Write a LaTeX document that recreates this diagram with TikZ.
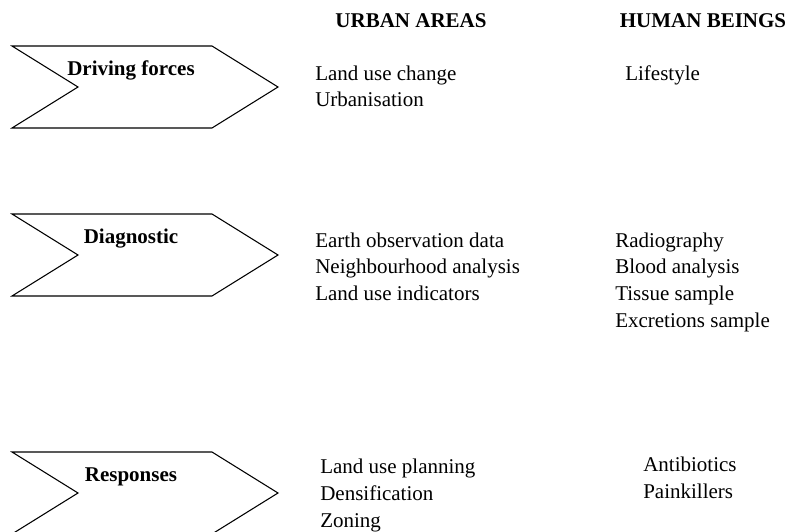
\documentclass[tikz,border=0pt]{standalone}
\usepackage{fontspec}
\setmainfont{Liberation Serif}

\tikzset{
  chevron/.style={draw, line width=0.8pt, line join=miter},
  stagetxt/.style={anchor=base, font=\fontsize{15.75}{19}\selectfont\bfseries},
  headtxt/.style={anchor=base, font=\fontsize{15.75}{19}\selectfont\bfseries},
  itemtxt/.style={anchor=base west, font=\fontsize{15.75}{19}\selectfont}
}

\begin{document}
\begin{tikzpicture}[x=0.75pt,y=-0.75pt,every node/.style={inner sep=0pt}]

\useasboundingbox (0,0) rectangle (790,532);
\clip (0,0) rectangle (790,532);

% Fleches
\foreach \y/\txt/\nom in {
87/{Driving forces}/drv,
255/{Diagnostic}/dia,
493/{Responses}/rsp
}
{
    \draw[chevron] (12,\y-41) -- (212,\y-41) -- (278,\y) -- (212,\y+41)
        -- (12,\y+41) -- (78,\y) -- cycle;
    \node[stagetxt] (\nom) at (131,\y-12) {\txt};
}

% En-tetes
\node[headtxt] (urb) at (411,27) {URBAN AREAS};
\node[headtxt] (hum) at (703,27) {HUMAN BEINGS};

% Listes
\foreach \t [count=\i] in {Land use change, Urbanisation}
    \node[itemtxt] (drv-u\i) at (315,80+26.7*\i-26.7) {\t};
\foreach \t [count=\i] in {Lifestyle}
    \node[itemtxt] (drv-h\i) at (625,80+26.7*\i-26.7) {\t};

\foreach \t [count=\i] in {Earth observation data, Neighbourhood analysis, Land use indicators}
    \node[itemtxt] (dia-u\i) at (315,247+26.7*\i-26.7) {\t};
\foreach \t [count=\i] in {Radiography, Blood analysis, Tissue sample, Excretions sample}
    \node[itemtxt] (dia-h\i) at (615,247+26.7*\i-26.7) {\t};

\foreach \t [count=\i] in {Land use planning, Densification, Zoning}
    \node[itemtxt] (rsp-u\i) at (320,473+27*\i-27) {\t};
\foreach \t [count=\i] in {Antibiotics, Painkillers}
    \node[itemtxt] (rsp-h\i) at (643,471+27*\i-27) {\t};

\end{tikzpicture}
\end{document}
